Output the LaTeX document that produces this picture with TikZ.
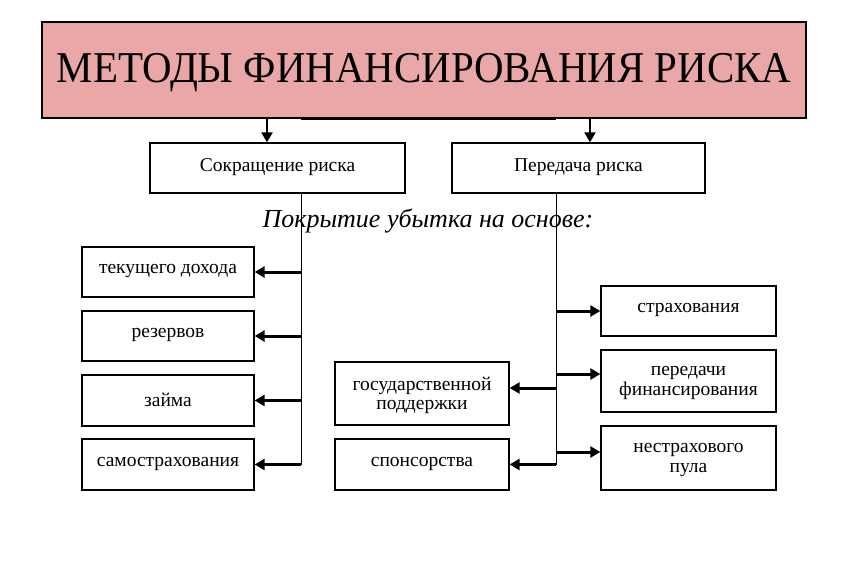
\documentclass[tikz,border=0pt]{standalone}
\usepackage{fontspec}
\setmainfont{Liberation Serif}
\newfontfamily\titlefont[FakeStretch=0.93]{Liberation Serif}
\usetikzlibrary{arrows.meta}
\definecolor{titlepink}{RGB}{234,167,167}
\begin{document}
\begin{tikzpicture}[x=1pt,y=-1pt,
  box/.style={draw=black,line width=1.3pt,fill=white,inner sep=0pt},
  txt/.style={align=center,inner sep=0pt,yshift=1pt,font=\fontsize{19.5}{19.5}\selectfont},
  txttwo/.style={txt,yshift=-3pt},
  arr/.style={line width=3pt,-{Triangle[length=10pt,width=11pt]}},
  trunk/.style={line width=0.8pt}]
\useasboundingbox (0,0) rectangle (851,567);
\fill[white] (0,0) rectangle (851,567);
% title
\node[draw=black,line width=1.6pt,fill=titlepink,minimum width=764pt,minimum height=96pt,inner sep=0pt,
  label={[inner sep=0pt,yshift=-3pt,font=\titlefont\fontsize{44}{46}\selectfont]center:МЕТОДЫ ФИНАНСИРОВАНИЯ РИСКА}] (title) at (424,70) {};
% level 1
\node[box,minimum width=255pt,minimum height=50pt,label={[txt]center:Сокращение риска}] (s1) at (277.5,168) {};
\node[box,minimum width=253pt,minimum height=50pt,label={[txt]center:Передача риска}] (s2) at (578.5,168) {};
\node[font=\itshape\fontsize{26}{28}\selectfont] (cap) at (428,221) {Покрытие убытка на основе:};
% left boxes
\node[box,minimum width=172pt,minimum height=50pt,label={[txt]center:текущего дохода}] (l1) at (168,272) {};
\node[box,minimum width=172pt,minimum height=50pt,label={[txt]center:резервов}] (l2) at (168,336) {};
\node[box,minimum width=172pt,minimum height=51pt,label={[txt]center:займа}] (l3) at (168,400.5) {};
\node[box,minimum width=172pt,minimum height=51pt,label={[txt]center:самострахования}] (l4) at (168,464.5) {};
% middle boxes
\node[box,minimum width=174pt,minimum height=63pt,label={[txttwo]center:государственной\\поддержки}] (m1) at (422,393.5) {};
\node[box,minimum width=174pt,minimum height=51pt,label={[txt]center:спонсорства}] (m2) at (422,464.5) {};
% right boxes
\node[box,minimum width=175pt,minimum height=50pt,label={[txt]center:страхования}] (r1) at (688.5,311) {};
\node[box,minimum width=175pt,minimum height=62pt,label={[txttwo]center:передачи\\финансирования}] (r2) at (688.5,381) {};
\node[box,minimum width=175pt,minimum height=64pt,label={[txttwo]center:нестрахового\\пула}] (r3) at (688.5,458) {};
% trunks
\coordinate (tl) at ([xshift=23.5pt]s1.south);
\coordinate (tr) at ([xshift=-22.5pt]s2.south);
\coordinate (tlend) at (tl |- l4.east);
\coordinate (trend) at (tr |- m2.east);
\draw[trunk] (tl) -- (tlend);
\draw[trunk] (tr) -- (trend);
% attachment points
\coordinate (a1) at ([xshift=-10.5pt]s1.north);
\coordinate (a2) at ([xshift=11.5pt]s2.north);
\coordinate (m1p) at ([yshift=5.5pt]m1.east);
\coordinate (r2p) at ([yshift=7pt]r2.west);
\coordinate (r3p) at ([yshift=6pt]r3.west);
% top arrows
\draw[arr,line width=2.2pt] (a1 |- title.south) -- (a1);
\draw[arr,line width=2.2pt] (a2 |- title.south) -- (a2);
\draw[line width=2.2pt] (tl |- title.south) -- (tr |- title.south);
% left arrows
\draw[arr] (tl |- l1.east) -- (l1.east);
\draw[arr] (tl |- l2.east) -- (l2.east);
\draw[arr] (tl |- l3.east) -- (l3.east);
\draw[arr] (tlend) -- (l4.east);
% middle arrows
\draw[arr] (tr |- m1p) -- (m1p);
\draw[arr] (trend) -- (m2.east);
% right arrows
\draw[arr] (tr |- r1.west) -- (r1.west);
\draw[arr] (tr |- r2p) -- (r2p);
\draw[arr] (tr |- r3p) -- (r3p);
\end{tikzpicture}
\end{document}
